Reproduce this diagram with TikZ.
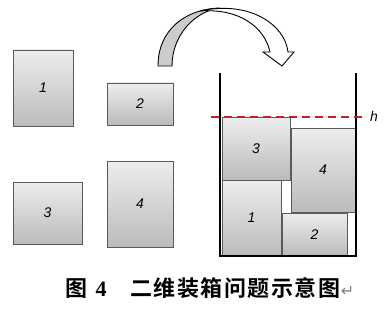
\documentclass[tikz,border=0pt]{standalone}
\usepackage{fontspec}
\setmainfont{Liberation Sans}
\newfontfamily\cjkfont[BoldFont=* Bold,LetterSpace=7]{Noto Sans CJK SC}
\newfontfamily\serfont{Liberation Serif}
\newfontfamily\symfont{DejaVu Sans}
\definecolor{boxtop}{HTML}{EDEDED}
\definecolor{boxbot}{HTML}{BBBBBB}
\definecolor{boxedge}{HTML}{5A5A5A}
\definecolor{hred}{HTML}{C8202A}
\begin{document}
\begin{tikzpicture}[x=1pt,y=-1pt,
  pbox/.style={draw=boxedge,line width=0.9pt,top color=boxtop,bottom color=boxbot,
    inner sep=0pt,font=\fontsize{14}{15}\selectfont\itshape},
  wall/.style={line width=1.8pt,black},
  capt/.style={inner sep=0pt,anchor=base}]
\useasboundingbox (0,0) rectangle (387,310);
% loose boxes
\node[pbox,minimum width=60pt,minimum height=76pt] (a1) at (43,88) {1};
\node[pbox,minimum width=66pt,minimum height=42pt] (a2) at (140,104) {2};
\node[pbox,minimum width=69pt,minimum height=62pt] (a3) at (47.5,213) {3};
\node[pbox,minimum width=66pt,minimum height=86pt] (a4) at (140,204) {4};
% curved arrow
\draw[line width=0.9pt,fill=gray!40] (158,66) .. controls (158,30) and (185,9) .. (220,8)
   .. controls (195,11) and (172,35) .. (172,66) -- cycle;
\draw[line width=0.9pt,fill=white] (200,11) .. controls (250,0) and (285,25) .. (288,52)
   -- (294,52) -- (282,66) -- (263,52) -- (270,52)
   .. controls (265,28) and (240,8) .. (200,11) -- cycle;
% packed boxes
\node[pbox,minimum width=68pt,minimum height=63pt] (c3) at (256,148.5) {3};
\node[pbox,minimum width=59pt,minimum height=76pt] (c1) at (251.5,218) {1};
\node[pbox,minimum width=65pt,minimum height=43pt] (c2) at (314.5,234.5) {2};
\node[pbox,minimum width=64pt,minimum height=84pt] (c4) at (323,170) {4};
% container
\coordinate (tl) at (220,73);
\coordinate (bl) at (220,256);
\coordinate (br) at (356,256);
\coordinate (tr) at (356,73);
\draw[wall] (tl) -- (bl) -- (br) -- (tr);
% height line
\coordinate (hl) at (211,117);
\coordinate (hr) at (366,117);
\node[inner sep=0pt,anchor=west,font=\fontsize{14}{15}\selectfont\itshape] (h) at (370,116) {h};
\draw[hred,line width=2pt,dash pattern=on 8pt off 5pt] (hl) -- (hr);
% caption
\node[capt,font=\cjkfont\bfseries\fontsize{22}{24}\selectfont] (c0) at (76,296) {图};
\node[capt,font=\serfont\bfseries\fontsize{22}{24}\selectfont] (c00) at (101,296) {4};
\node[capt,anchor=base west,font=\cjkfont\bfseries\fontsize{22}{24}\selectfont] (cc) at (130,296) {二维装箱问题示意图};
\node[capt,anchor=base west,text=gray,font=\symfont\fontsize{16}{17}\selectfont] (ret) at (cc.base east) {↵};
\end{tikzpicture}
\end{document}
